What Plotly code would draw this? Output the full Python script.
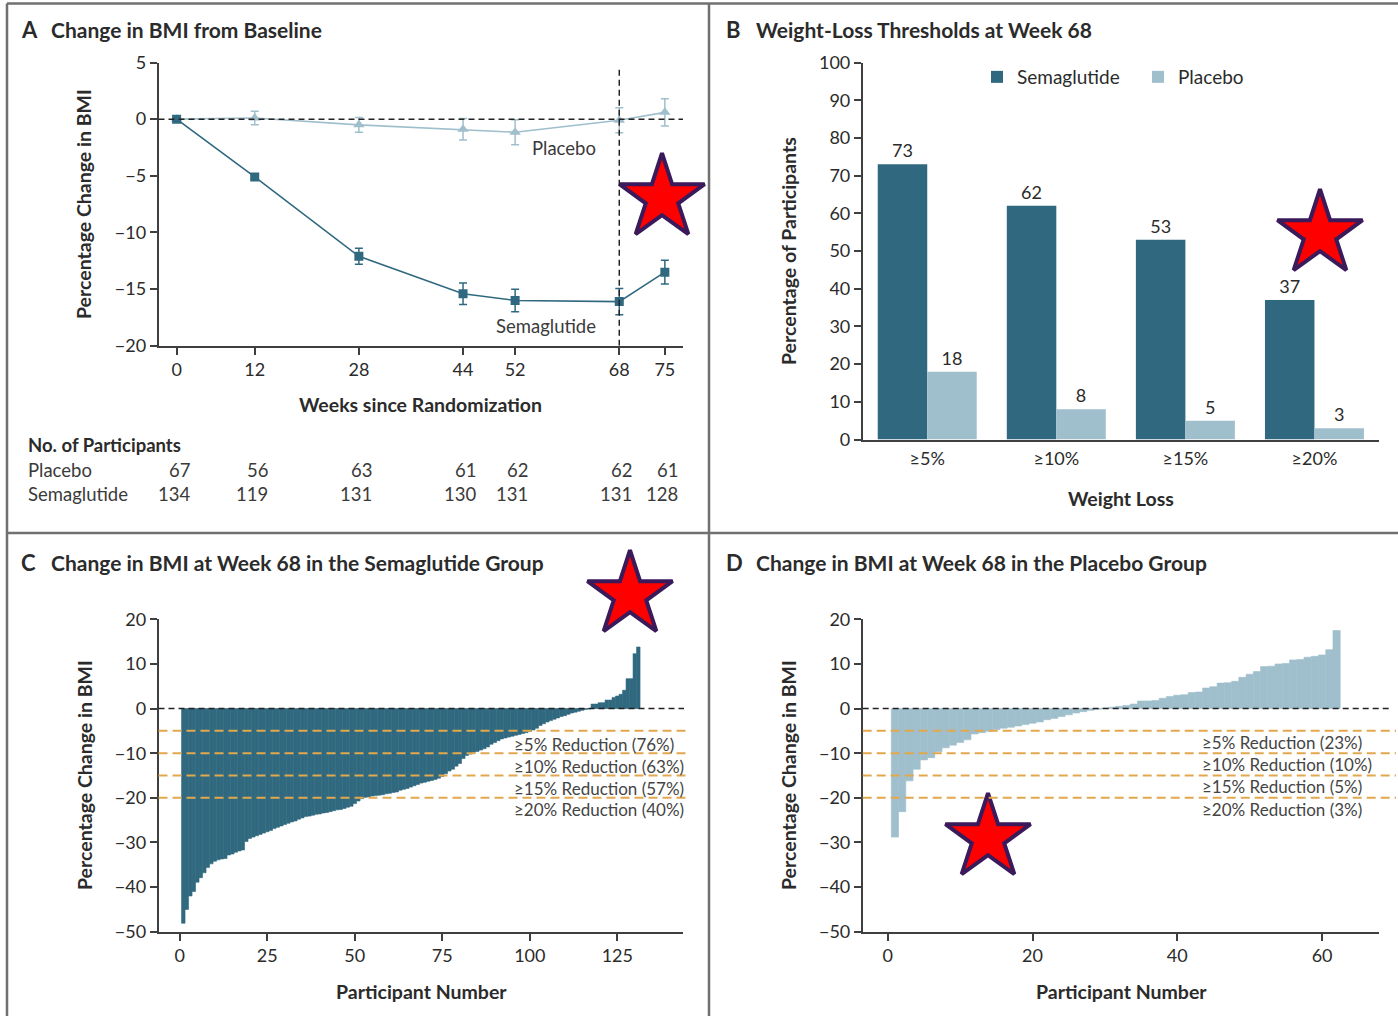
import plotly.graph_objects as go

W, H = 1398, 1016
FONT = "Lato"
TXT = "#2b2b2b"
SEM_C = "#30697f"
PLA_C = "#a0bfcc"
ORANGE = "#e2a84e"
AX = "#3f3f3f"

# ---------------- Panel A data ----------------
weeks = [0, 12, 28, 44, 52, 68, 75]
sema_mean = [0.0, -5.1, -12.1, -15.4, -16.0, -16.1, -13.5]
sema_err = [0.1, 0.2, 0.7, 0.95, 1.0, 1.15, 1.05]
plac_mean = [0.0, 0.1, -0.5, -0.9, -1.15, -0.1, 0.6]
plac_err = [0.1, 0.6, 0.65, 0.95, 1.1, 1.1, 1.2]
n_placebo = [67, 56, 63, 61, 62, 62, 61]
n_sema = [134, 119, 131, 130, 131, 131, 128]

# ---------------- Panel B data ----------------
thresholds = ["≥5%", "≥10%", "≥15%", "≥20%"]
thr_sema = [73, 62, 53, 37]
thr_plac = [18, 8, 5, 3]

# ---------------- Panel C data (sorted % change, semaglutide) ----------------
sema_change = [
    -48.1, -45.0, -42.0, -41.0, -38.9, -37.9, -36.8, -35.6, -34.8, -34.2,
    -33.9, -33.7, -33.6, -32.8, -32.6, -32.2, -31.9, -31.7, -29.8, -29.1,
    -28.8, -28.5, -28.2, -27.9, -27.6, -27.3, -26.9, -26.6, -26.3, -26.0,
    -25.7, -25.4, -25.2, -24.8, -24.5, -24.2, -24.1, -23.9, -23.7, -23.6,
    -23.4, -23.3, -23.1, -22.9, -22.7, -22.6, -22.4, -22.1, -21.9, -21.3,
    -20.7, -20.2, -19.9, -19.8, -19.6, -19.5, -19.4, -19.3, -19.1, -19.0,
    -18.8, -18.7, -18.3, -18.1, -17.9, -17.6, -17.3, -17.0, -16.7, -16.5,
    -16.3, -16.1, -15.9, -15.6, -15.2, -14.6, -14.0, -13.6, -12.9, -12.3,
    -11.2, -10.5, -10.2, -9.8, -9.6, -9.3, -9.0, -8.6, -8.0, -7.6,
    -7.2, -6.8, -6.6, -6.4, -6.2, -6.0, -5.8, -5.6, -5.4, -5.1,
    -4.8, -4.4, -3.8, -3.4, -3.0, -2.7, -2.4, -2.1, -1.8, -1.6,
    -1.3, -1.0, -0.8, -0.6, -0.4, -0.2, -0.1, 1.0, 1.0, 1.3,
    1.3, 1.9, 1.9, 2.5, 2.8, 3.2, 4.1, 6.7, 6.7, 12.3,
    13.8,
]
# ---------------- Panel D data (sorted % change, placebo) ----------------
plac_change = [
    -28.8, -23.1, -16.2, -13.6, -11.5, -11.0, -9.7, -8.8, -8.2, -7.6,
    -7.0, -5.7, -5.4, -5.1, -4.7, -4.4, -4.2, -3.9, -3.6, -3.3,
    -3.0, -2.5, -2.2, -1.8, -1.4, -1.0, -0.7, -0.4, -0.15, 0.1,
    0.3, 0.5, 0.7, 1.0, 1.7, 1.7, 1.8, 2.3, 2.7, 3.0,
    3.1, 3.6, 3.7, 4.6, 4.9, 5.7, 5.8, 6.1, 7.0, 7.7,
    8.3, 9.4, 9.5, 10.0, 10.1, 10.9, 11.0, 11.5, 11.7, 12.0,
    13.2, 17.5,
]
ref_lines = [-5, -10, -15, -20]
sema_ref_labels = ["≥5% Reduction (76%)", "≥10% Reduction (63%)",
                   "≥15% Reduction (57%)", "≥20% Reduction (40%)"]
plac_ref_labels = ["≥5% Reduction (23%)", "≥10% Reduction (10%)",
                   "≥15% Reduction (5%)", "≥20% Reduction (3%)"]

# decorative stars (pixel positions in the picture)
star_x = [662, 1320, 630, 988]
star_y = [198, 234, 595, 838]


def px(x):
    return x / W


def py(y):
    return 1 - y / H


fig = go.Figure()

# Panel A
fig.add_trace(go.Scatter(
    x=weeks, y=plac_mean, mode="lines+markers", xaxis="x", yaxis="y",
    line=dict(color=PLA_C, width=1.6),
    marker=dict(symbol="triangle-up", size=10, color=PLA_C),
    error_y=dict(type="data", array=plac_err, color=PLA_C, thickness=1.5, width=4),
    showlegend=False))
fig.add_trace(go.Scatter(
    x=weeks, y=sema_mean, mode="lines+markers", xaxis="x", yaxis="y",
    line=dict(color=SEM_C, width=1.6),
    marker=dict(symbol="square", size=9, color=SEM_C),
    error_y=dict(type="data", array=sema_err, color=SEM_C, thickness=1.5, width=4),
    showlegend=False))

# Panel B
fig.add_trace(go.Bar(
    x=thresholds, y=thr_sema, name="Semaglutide", xaxis="x2", yaxis="y2",
    marker=dict(color=SEM_C, line=dict(width=0)),
    text=[str(v) for v in thr_sema], textposition="outside", cliponaxis=False,
    textfont=dict(size=18, color=TXT, family=FONT), legendgroup="a"))
fig.add_trace(go.Bar(
    x=thresholds, y=thr_plac, name="Placebo", xaxis="x2", yaxis="y2",
    marker=dict(color=PLA_C, line=dict(width=0)),
    text=[str(v) for v in thr_plac], textposition="outside", cliponaxis=False,
    textfont=dict(size=18, color=TXT, family=FONT), legendgroup="b"))

# Panel C
fig.add_trace(go.Bar(
    x=list(range(1, len(sema_change) + 1)), y=sema_change, width=1.0,
    xaxis="x3", yaxis="y3", marker=dict(color=SEM_C, line=dict(width=0.6, color=SEM_C)),
    showlegend=False))
# Panel D
fig.add_trace(go.Bar(
    x=list(range(1, len(plac_change) + 1)), y=plac_change, width=1.0,
    xaxis="x4", yaxis="y4", marker=dict(color=PLA_C, line=dict(width=0.6, color=PLA_C)),
    showlegend=False))

# Stars overlay
fig.add_trace(go.Scatter(
    x=star_x, y=star_y, mode="markers", xaxis="x5", yaxis="y5",
    marker=dict(symbol="star", size=64, color="#ff0000",
                line=dict(color="#3a1a5a", width=4)),
    showlegend=False, cliponaxis=False))

tickfont = dict(family=FONT, size=18, color=TXT)
common_ax = dict(showline=True, linecolor=AX, linewidth=1.6, ticks="outside",
                 ticklen=7, tickwidth=1.5, tickcolor=AX, showgrid=False,
                 zeroline=False, tickfont=tickfont, fixedrange=True, automargin=False)

L_A, R_A = 158.5, 683
L_B, R_B = 862.7, 1379

fig.update_layout(
    template="none",
    width=W, height=H, autosize=False,
    margin=dict(l=0, r=0, t=0, b=0, pad=0, autoexpand=False),
    paper_bgcolor="white", plot_bgcolor="rgba(0,0,0,0)",
    font=dict(family=FONT, color=TXT),
    barmode="group", bargap=0.233, bargroupgap=0,
    legend=dict(orientation="h", x=px(977), y=py(58), xanchor="left", yanchor="top",
                font=dict(family=FONT, size=19, color=TXT), bgcolor="rgba(0,0,0,0)",
                entrywidth=116, itemclick=False),
    xaxis=dict(domain=[px(L_A), px(R_A)], anchor="y",
               range=[-(176.6 - L_A) / 6.51, (R_A - 176.6) / 6.51],
               tickvals=weeks, **common_ax),
    yaxis=dict(domain=[py(345.8), py(62.5)], anchor="x", range=[-20, 5],
               tickvals=[5, 0, -5, -10, -15, -20], **common_ax),
    xaxis2=dict(domain=[px(L_B), px(R_B)], anchor="y2", range=[-0.5, 3.5],
                type="category", **{**common_ax, "tickcolor": "rgba(0,0,0,0)", "ticklen": 2}),
    yaxis2=dict(domain=[py(439.5), py(62.5)], anchor="x2", range=[0, 100],
                dtick=10, **common_ax),
    xaxis3=dict(domain=[px(L_A), px(R_A)], anchor="y3",
                range=[-(179.8 - L_A) / 3.5, (R_A - 179.8) / 3.5],
                tickvals=[0, 25, 50, 75, 100, 125], **common_ax),
    yaxis3=dict(domain=[py(931.7), py(619.3)], anchor="x3", range=[-50, 20],
                dtick=10, **common_ax),
    xaxis4=dict(domain=[px(L_B), px(R_B)], anchor="y4",
                range=[-(887.7 - L_B) / 7.24, (R_B - 887.7) / 7.24],
                tickvals=[0, 20, 40, 60], **common_ax),
    yaxis4=dict(domain=[py(931.7), py(619.3)], anchor="x4", range=[-50, 20],
                dtick=10, **common_ax),
    xaxis5=dict(domain=[0, 1], anchor="y5", range=[0, W], visible=False,
                fixedrange=True, automargin=False),
    yaxis5=dict(domain=[0, 1], anchor="x5", range=[H, 0], visible=False,
                fixedrange=True, automargin=False),
)

shapes = []
# panel borders
BORDER = "#707070"
shapes.append(dict(type="line", xref="paper", yref="paper", x0=px(7), x1=1, y0=py(3.5), y1=py(3.5),
                   line=dict(color=BORDER, width=2.5)))
shapes.append(dict(type="line", xref="paper", yref="paper", x0=px(7), x1=px(7), y0=py(3.5), y1=0,
                   line=dict(color=BORDER, width=2.5)))
shapes.append(dict(type="line", xref="paper", yref="paper", x0=px(709), x1=px(709), y0=py(3.5), y1=0,
                   line=dict(color=BORDER, width=2.5)))
shapes.append(dict(type="line", xref="paper", yref="paper", x0=px(7), x1=1, y0=py(533), y1=py(533),
                   line=dict(color=BORDER, width=2.5)))
# panel A reference lines
shapes.append(dict(type="line", xref="paper", yref="y", x0=px(L_A), x1=px(R_A), y0=0, y1=0,
                   line=dict(color="#222", width=1.5, dash="6px,4px")))
shapes.append(dict(type="line", xref="x", yref="y", x0=68, x1=68, y0=-20, y1=4.7,
                   line=dict(color="#222", width=1.5, dash="6px,4px")))
# panel C/D reference lines
for v in ref_lines:
    shapes.append(dict(type="line", xref="paper", yref="y3", x0=px(L_A), x1=px(688), y0=v, y1=v,
                       line=dict(color=ORANGE, width=2, dash="9px,5px")))
    shapes.append(dict(type="line", xref="paper", yref="y4", x0=px(L_B), x1=px(1396), y0=v, y1=v,
                       line=dict(color=ORANGE, width=2, dash="9px,5px")))
shapes.append(dict(type="line", xref="paper", yref="y3", x0=px(L_A), x1=px(684), y0=0, y1=0,
                   line=dict(color="#222", width=1.5, dash="6px,4px")))
shapes.append(dict(type="line", xref="paper", yref="y4", x0=px(L_B), x1=px(1390), y0=0, y1=0,
                   line=dict(color="#222", width=1.5, dash="6px,4px")))
fig.update_layout(shapes=shapes)

ann = []


def text(x, y, s, size=18, anchor="center", bold=False, angle=0, color=TXT):
    ann.append(dict(xref="paper", yref="paper", x=px(x), y=py(y), text=("<b>%s</b>" % s) if bold else s,
                    showarrow=False, xanchor=anchor, yanchor="middle", textangle=angle,
                    font=dict(family=FONT, size=size, color=color)))


# panel titles
for letter, lx, ty, title in [("A", 19, 30, "Change in BMI from Baseline"),
                              ("B", 724, 30, "Weight-Loss Thresholds at Week 68"),
                              ("C", 19, 562, "Change in BMI at Week 68 in the Semaglutide Group"),
                              ("D", 724, 562, "Change in BMI at Week 68 in the Placebo Group")]:
    text(lx, ty, letter, size=22, anchor="left", bold=True)
    text(lx + 30, ty, title, size=21, anchor="left", bold=True)

# axis titles
text(84, 204, "Percentage Change in BMI", size=19.5, bold=True, angle=-90)
text(788, 251, "Percentage of Participants", size=19.5, bold=True, angle=-90)
text(84, 775, "Percentage Change in BMI", size=19.5, bold=True, angle=-90)
text(788, 775, "Percentage Change in BMI", size=19.5, bold=True, angle=-90)
text(420.5, 405, "Weeks since Randomization", size=19.5, bold=True)
text(1120.6, 498.5, "Weight Loss", size=19.5, bold=True)
text(421, 991, "Participant Number", size=19.5, bold=True)
text(1121, 991, "Participant Number", size=19.5, bold=True)

# panel A curve labels
text(598, 148, "Placebo", size=18.5, anchor="right", color="#3a3a3a")
text(598, 326, "Semaglutide", size=18.5, anchor="right", color="#3a3a3a")

# participants table
text(26, 444.5, "No. of Participants", size=18.5, anchor="left", bold=True)
text(26, 470, "Placebo", size=18.5, anchor="left", color="#3a3a3a")
text(26, 493.5, "Semaglutide", size=18.5, anchor="left", color="#3a3a3a")
for w, a, b in zip(weeks, n_placebo, n_sema):
    for val, yy in ((a, 470), (b, 493.5)):
        ann.append(dict(xref="x", yref="paper", x=w, y=py(yy), text=str(val), showarrow=False,
                        xanchor="right", yanchor="middle", xshift=15,
                        font=dict(family=FONT, size=18.5, color="#3a3a3a")))

# reference labels C / D
for s, yy in zip(sema_ref_labels, [744.3, 766.3, 788, 809.5]):
    text(512, yy, s, size=17, anchor="left", color="#444")
for s, yy in zip(plac_ref_labels, [742, 764.5, 786.5, 809]):
    text(1200, yy, s, size=17, anchor="left", color="#444")

fig.update_layout(annotations=ann)

fig.write_html("out.html", config={"displayModeBar": False},
               post_script="document.body.style.margin='0px';document.body.style.padding='0px';")
